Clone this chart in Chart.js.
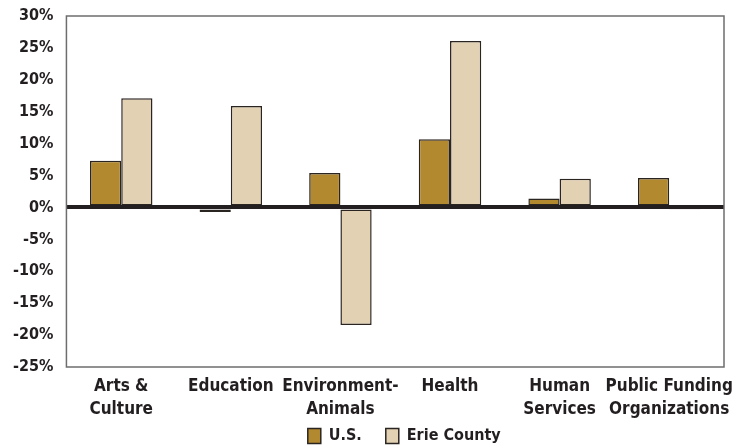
<!DOCTYPE html>
<html>
<head>
<meta charset="utf-8">
<script src="https://cdn.jsdelivr.net/npm/chart.js@4.4.1/dist/chart.umd.min.js"></script>
<style>
  html, body { margin: 0; padding: 0; background: #fff; }
  #wrap { width: 748px; height: 448px; }
</style>
</head>
<body>
<div id="wrap"><canvas id="chart"></canvas></div>
<script>
// Categorias y cambios porcentuales
const categories = [
    ['Arts &', 'Culture'],
    'Education',
    ['Environment-', 'Animals'],
    'Health',
    ['Human', 'Services'],
    ['Public Funding', 'Organizations']
];
const usValues = [7.3, -0.7, 5.4, 10.7, 1.4, 4.6];
const erieValues = [17.1, 15.9, -18.4, 26.1, 4.5, -0.3];
const yTicks = [30, 25, 20, 15, 10, 5, 0, -5, -10, -15, -20, -25];

const FONT = '"Liberation Sans Narrow", "DejaVu Sans Condensed", sans-serif';
const INK = '#231f20';

// Marco gris alrededor del area del grafico
const framePlugin = {
    id: 'frame',
    afterDraw(chart) {
        const a = chart.chartArea;
        const ctx = chart.ctx;
        ctx.save();
        ctx.strokeStyle = '#6d6d6d';
        ctx.lineWidth = 1.5;
        ctx.strokeRect(a.left, a.top, a.right - a.left, a.bottom - a.top);
        ctx.restore();
    }
};

// Corre la leyenda un poco a la derecha
const legendShift = {
    id: 'legendShift',
    afterLayout(chart) {
        if (chart.legend) {
            chart.legend.left += 9;
            chart.legend.right += 9;
        }
    }
};

new Chart(document.getElementById('chart'), {
    type: 'bar',
    data: {
        labels: categories,
        datasets: [{
            label: 'U.S.',
            data: usValues,
            backgroundColor: '#b3892f',
            borderColor: '#2b2522',
            borderWidth: 1.5,
            borderSkipped: false
        }, {
            label: 'Erie County',
            data: erieValues,
            backgroundColor: '#e3d1b4',
            borderColor: '#2b2522',
            borderWidth: 1.5,
            borderSkipped: false
        }]
    },
    options: {
        responsive: true,
        maintainAspectRatio: false,
        animation: false,
        layout: { padding: { top: 16, right: 24, left: 0, bottom: -6 } },
        datasets: {
            bar: { categoryPercentage: 0.57, barPercentage: 1.0 }
        },
        plugins: {
            legend: {
                position: 'bottom',
                fullSize: false,
                labels: {
                    color: INK,
                    font: { family: FONT, size: 16, weight: 'bold' },
                    boxWidth: 13,
                    boxHeight: 15,
                    padding: 24
                }
            },
            tooltip: { enabled: false }
        },
        scales: {
            x: {
                afterFit(scale) {
                    // las etiquetas invaden el espacio de la leyenda, sin recorte
                    scale.height = 37;
                    scale._computeLabelArea = () => undefined;
                },
                grid: { display: false, drawTicks: false },
                border: { display: false },
                ticks: {
                    color: INK,
                    font: { family: FONT, size: 17, weight: 'bold', lineHeight: 1.3 },
                    padding: 9,
                    maxRotation: 0,
                    autoSkip: false
                }
            },
            y: {
                min: -25,
                max: 30,
                afterBuildTicks(scale) {
                    scale.ticks = yTicks.map(v => ({ value: v }));
                },
                afterFit(scale) {
                    // sin relleno extra por las etiquetas de los extremos
                    scale.paddingTop = 0;
                    scale.paddingBottom = 0;
                },
                grid: {
                    drawTicks: false,
                    z: 1,
                    color: ctx => ctx.tick && ctx.tick.value === 0 ? INK : 'rgba(0,0,0,0)',
                    lineWidth: ctx => ctx.tick && ctx.tick.value === 0 ? 4 : 0
                },
                border: { display: false },
                ticks: {
                    color: INK,
                    font: { family: FONT, size: 16, weight: 'bold' },
                    padding: 13,
                    callback: v => v + '%'
                }
            }
        }
    },
    plugins: [framePlugin, legendShift]
});
</script>
</body>
</html>
